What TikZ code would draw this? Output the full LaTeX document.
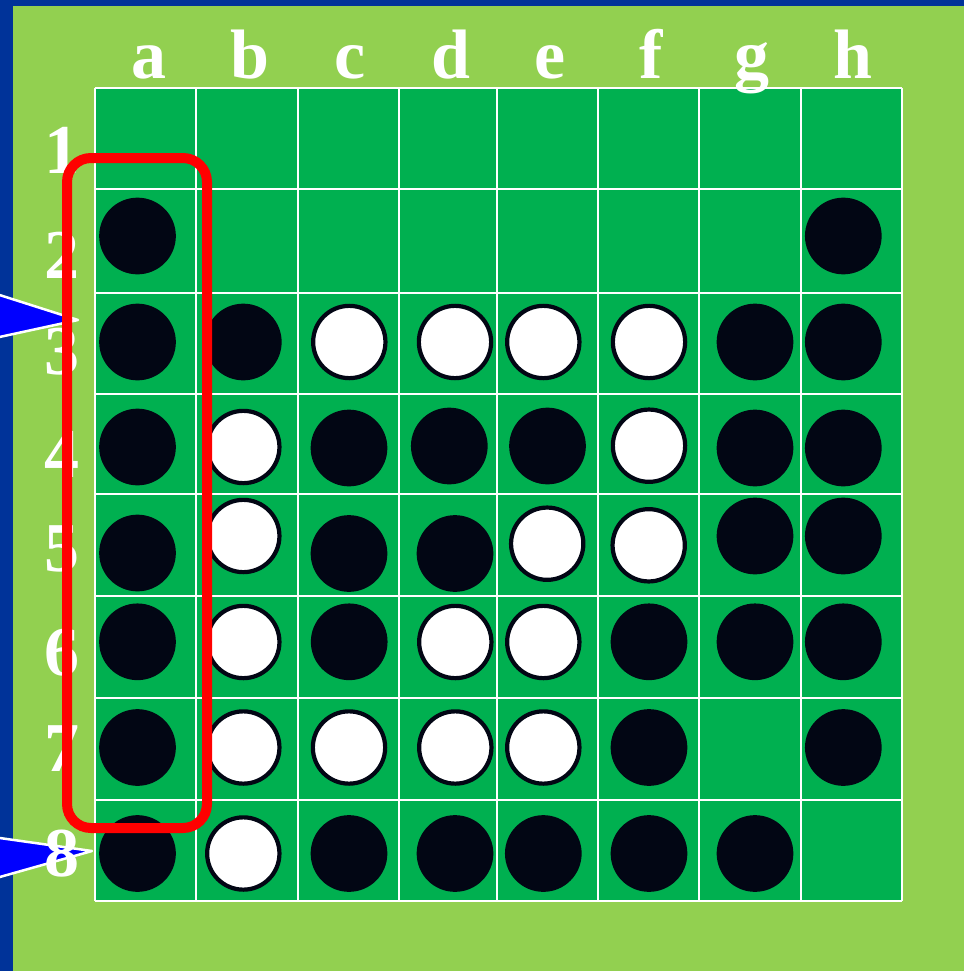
\documentclass[tikz,border=0pt]{standalone}
\usepackage{fontspec}
\setmainfont{Liberation Serif}
\definecolor{lightbg}{RGB}{146,208,80}
\definecolor{boardgreen}{RGB}{0,176,80}
\definecolor{frameblue}{RGB}{0,51,153}
\definecolor{discblack}{RGB}{2,6,20}
\definecolor{arrowblue}{RGB}{0,0,255}
\definecolor{markred}{RGB}{255,0,0}
\tikzset{
  gridline/.style={draw=white, line width=2pt},
  bdisc/.style={circle, fill=discblack, minimum size=76.7pt, inner sep=0pt},
  wdisc/.style={circle, fill=white, draw=discblack, line width=4.2pt, minimum size=72.3pt, inner sep=0pt},
  coordlabel/.style={text=white, font=\bfseries\fontsize{70}{70}\selectfont, anchor=base, inner sep=0pt},
  pointer/.style={fill=arrowblue, draw=white, line width=2.5pt, line join=round},
  highlight/.style={draw=markred, line width=10pt, rounded corners=24pt}
}
\begin{document}
\begin{tikzpicture}[x=1pt,y=-1pt]
\useasboundingbox (0,0) rectangle (964,971);
\begin{scope}
\clip (0,0) rectangle (964,971);
\fill[lightbg] (0,0) rectangle (964,971);
\fill[frameblue] (0,0) rectangle (12.5,971);
\fill[frameblue] (0,0) rectangle (964,6);
% board
\fill[boardgreen] (95,88) rectangle (902,901);
\foreach \x in {95,196,297.5,399,497,598,699,800.5,902}
  \draw[gridline] (\x,88) -- (\x,901);
\foreach \y in {88,189,292.5,393.5,494,596,698,800,901}
  \draw[gridline] (95,\y) -- (902,\y);
% row 2
\node[bdisc] (a2) at (137.5,236) {};
\node[bdisc] (h2) at (843.3,236) {};
% row 3
\node[bdisc] (a3) at (137.5,342) {};
\node[bdisc] (b3) at (243.3,342) {};
\node[wdisc] (c3) at (349.3,342) {};
\node[wdisc] (d3) at (455,342) {};
\node[wdisc] (e3) at (543.3,342) {};
\node[wdisc] (f3) at (649,342) {};
\node[bdisc] (g3) at (755,342) {};
\node[bdisc] (h3) at (843.3,342) {};
% row 4
\node[bdisc] (a4) at (137.5,447) {};
\node[wdisc] (b4) at (243.3,447) {};
\node[bdisc] (c4) at (349,448) {};
\node[bdisc] (d4) at (449.3,446) {};
\node[bdisc] (e4) at (547.5,446) {};
\node[wdisc] (f4) at (649,445.7) {};
\node[bdisc] (g4) at (755,448) {};
\node[bdisc] (h4) at (843.3,448) {};
% row 5
\node[bdisc] (a5) at (137.5,553) {};
\node[wdisc] (b5) at (243.3,536) {};
\node[bdisc] (c5) at (349,553.5) {};
\node[bdisc] (d5) at (455,553.5) {};
\node[wdisc] (e5) at (547.2,543.7) {};
\node[wdisc] (f5) at (648.7,545.3) {};
\node[bdisc] (g5) at (755,536) {};
\node[bdisc] (h5) at (843.3,536) {};
% row 6
\node[bdisc] (a6) at (137.5,641.8) {};
\node[wdisc] (b6) at (243.3,642) {};
\node[bdisc] (c6) at (349.2,641.8) {};
\node[wdisc] (d6) at (455.3,642) {};
\node[wdisc] (e6) at (543.3,642) {};
\node[bdisc] (f6) at (649,641.8) {};
\node[bdisc] (g6) at (755,641.8) {};
\node[bdisc] (h6) at (843.3,641.8) {};
% row 7
\node[bdisc] (a7) at (137.5,747.5) {};
\node[wdisc] (b7) at (243.3,747.5) {};
\node[wdisc] (c7) at (349,747.5) {};
\node[wdisc] (d7) at (455.3,747.5) {};
\node[wdisc] (e7) at (543.3,747.5) {};
\node[bdisc] (f7) at (649,747.5) {};
\node[bdisc] (h7) at (843.3,747.5) {};
% row 8
\node[bdisc] (a8) at (137.5,853.5) {};
\node[wdisc] (b8) at (243.3,853.5) {};
\node[bdisc] (c8) at (349,853.5) {};
\node[bdisc] (d8) at (455,853.5) {};
\node[bdisc] (e8) at (543.3,853.5) {};
\node[bdisc] (f8) at (649,853.5) {};
\node[bdisc] (g8) at (755,853.5) {};
% pointers
\filldraw[pointer] (-30,285.6) -- (78,320) -- (-30,343.4) -- cycle;
\filldraw[pointer] (-30,833.8) -- (92,851) -- (-30,885.4) -- cycle;
% column labels
\node[coordlabel] (la) at (148.5,79) {a};
\node[coordlabel] (lb) at (249.5,79) {b};
\node[coordlabel] (lc) at (350,79) {c};
\node[coordlabel] (ld) at (451,79) {d};
\node[coordlabel] (le) at (550,79) {e};
\node[coordlabel] (lf) at (651,79) {f};
\node[coordlabel] (lg) at (752,79) {g};
\node[coordlabel] (lh) at (853,79) {h};
% row labels
\node[coordlabel] (n1) at (61.5,173) {1};
\node[coordlabel] (n2) at (61.5,278) {2};
\node[coordlabel] (n3) at (61.5,374) {3};
\node[coordlabel] (n4) at (61.5,477) {4};
\node[coordlabel] (n5) at (61.5,571) {5};
\node[coordlabel] (n6) at (61.5,675) {6};
\node[coordlabel] (n7) at (61.5,771) {7};
\node[coordlabel] (n8) at (61.5,876) {8};
% highlight
\draw[highlight] (67,158) rectangle (207,828);
\end{scope}
\end{tikzpicture}
\end{document}
